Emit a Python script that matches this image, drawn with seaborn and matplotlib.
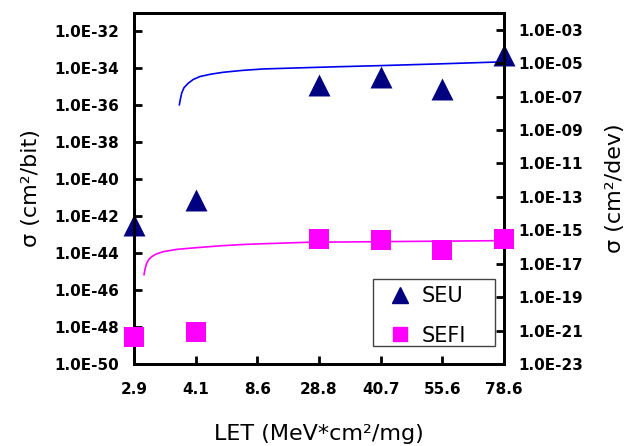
import numpy as np
import pandas as pd
import matplotlib
matplotlib.use("Agg")
import matplotlib.pyplot as plt
from matplotlib.lines import Line2D
from matplotlib.patches import Rectangle
import seaborn as sns

# LET categories (equally spaced on the x axis)
let_labels = ['2.9', '4.1', '8.6', '28.8', '40.7', '55.6', '78.6']

# measured points: category index, log10 sigma
seu_idx = [0, 1, 3, 4, 5, 6]
seu_log = [-42.5, -41.1, -34.9, -34.45, -35.1, -33.27]        # cm2/bit (left)
sefi_idx = [0, 1, 3, 4, 5, 6]
sefi_log = [-21.4, -21.1, -15.5, -15.6, -16.2, -15.5]         # cm2/dev (right)

# fitted curves (x in category units)
seu_fit_x = [0.735, 0.75, 0.773, 0.81, 0.88, 0.96, 1.07, 1.25, 1.448, 1.75, 2.097, 2.69, 3.3, 3.99, 5.0, 5.935, 6.0]
seu_fit_log = [-35.98, -35.7, -35.34, -35.05, -34.80, -34.6, -34.44, -34.31, -34.21, -34.11, -34.03, -33.97, -33.91, -33.85, -33.75, -33.65, -33.63]
sefi_fit_x = [0.162, 0.18, 0.206, 0.24, 0.287, 0.36, 0.475, 0.7, 1.017, 1.4, 1.827, 2.80, 4.37, 6.0]
sefi_fit_log = [-17.67, -17.3, -16.97, -16.75, -16.58, -16.42, -16.28, -16.14, -16.04, -15.93, -15.84, -15.72, -15.67, -15.62]

sns.set_style('ticks')
plt.rcParams['font.family'] = ['DejaVu Sans']
plt.rcParams['text.color'] = 'black'
plt.rcParams['axes.labelcolor'] = 'black'
plt.rcParams['xtick.color'] = 'black'
plt.rcParams['ytick.color'] = 'black'

fig = plt.figure(figsize=(6.25, 4.46), dpi=100)
ax = fig.add_axes([0.2144, 0.1839, 0.592, 0.787])
ax2 = ax.twinx()

navy = '#000080'
mag = '#FF00FF'

seu = pd.DataFrame({'x': seu_idx, 'y': 10.0 ** np.array(seu_log)})
sefi = pd.DataFrame({'x': sefi_idx, 'y': 10.0 ** np.array(sefi_log)})
seu_fit = pd.DataFrame({'x': seu_fit_x, 'y': 10.0 ** np.array(seu_fit_log)})
sefi_fit = pd.DataFrame({'x': sefi_fit_x, 'y': 10.0 ** np.array(sefi_fit_log)})

ax.set_yscale('log')
ax2.set_yscale('log')

sns.lineplot(data=seu_fit, x='x', y='y', ax=ax, color='#0000EE', lw=1.2, sort=False)
sns.lineplot(data=sefi_fit, x='x', y='y', ax=ax2, color=mag, lw=1.2, sort=False)
sns.scatterplot(data=seu, x='x', y='y', ax=ax, marker='^', s=250, color=navy,
                edgecolor=navy, linewidth=0, clip_on=False, zorder=5)
sns.scatterplot(data=sefi, x='x', y='y', ax=ax2, marker='s', s=225, color=mag,
                edgecolor=mag, linewidth=0, clip_on=False, zorder=5)

ax.set_xlim(0, 6)
ax.set_ylim(1e-50, 1e-31)
ax2.set_ylim(1e-23, 1e-2)

ax.set_xticks(range(len(let_labels)))
ax.set_xticklabels(let_labels)

lt = [10.0 ** e for e in range(-50, -31, 2)]
ax.set_yticks(lt)
ax.set_yticklabels(['1.0E%03d' % e for e in range(-50, -31, 2)])
rt = [10.0 ** e for e in range(-23, -2, 2)]
ax2.set_yticks(rt)
ax2.set_yticklabels(['1.0E%03d' % e for e in range(-23, -2, 2)])
ax.yaxis.set_minor_locator(matplotlib.ticker.NullLocator())
ax2.yaxis.set_minor_locator(matplotlib.ticker.NullLocator())

for a in (ax, ax2):
    a.tick_params(direction='in', length=6, width=2, labelsize=11, pad=11,
                  colors='black')
    for lab in a.get_xticklabels() + a.get_yticklabels():
        lab.set_fontweight('bold')
    for sp in a.spines.values():
        sp.set_visible(True)
        sp.set_linewidth(2)
        sp.set_color('black')
ax.tick_params(axis='x', pad=13)
ax2.tick_params(axis='y', pad=10)

ax.set_xlabel('LET (MeV*cm²/mg)', fontsize=16, color='black')
ax.xaxis.set_label_coords(0.5, -0.172)
ax.set_ylabel('σ (cm²/bit)', fontsize=16, color='black')
ax.yaxis.set_label_coords(-0.25, 0.5)
ax2.set_ylabel('σ (cm²/dev)', fontsize=16, color='black')
ax2.yaxis.set_label_coords(1.274, 0.5)

# legend box (drawn separately, text sits low in it like the original)
ax2.add_patch(Rectangle((0.646, 0.0513), 0.330, 0.191, transform=ax2.transAxes,
                        fill=True, facecolor='white', edgecolor='#444444',
                        lw=1, zorder=6))
handles = [Line2D([], [], marker='^', ls='none', color=navy, ms=11.5),
           Line2D([], [], marker='s', ls='none', color=mag, ms=9.5)]
leg = ax2.legend(handles, ['SEU', 'SEFI'], loc='center left',
                 bbox_to_anchor=(0.692, 0.137), borderaxespad=0, borderpad=0,
                 fontsize=15, frameon=False, handlelength=1.0,
                 labelspacing=0.95, handletextpad=0.5, labelcolor='black')
leg.set_zorder(7)

fig.savefig('out.png', dpi=100)
